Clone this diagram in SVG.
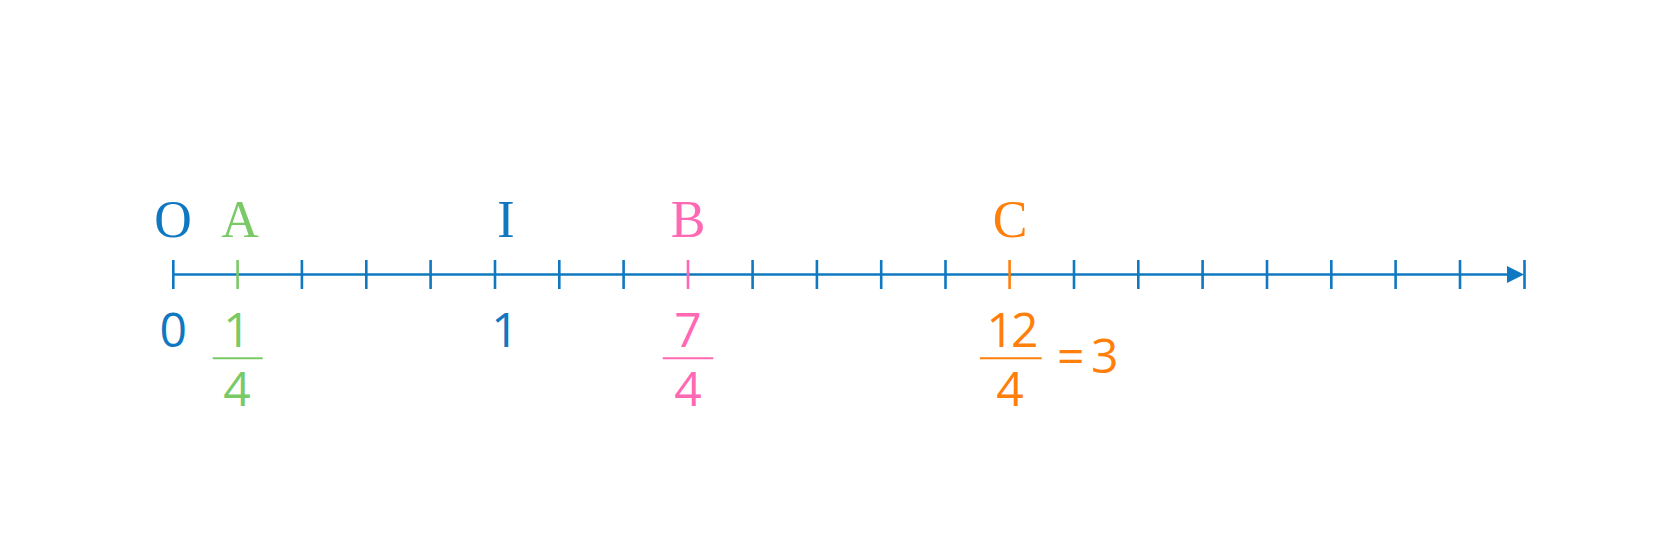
<svg xmlns="http://www.w3.org/2000/svg" width="1680" height="560" viewBox="0 0 1680 560">
<style>
.lbl{font-family:"Liberation Serif","Times New Roman",serif;font-size:52px;font-weight:400;text-anchor:middle}
.num{font-family:"Open Sans","Liberation Sans",sans-serif;font-size:48px;font-weight:400;text-anchor:middle}
.tk{stroke-width:2.6;fill:none}
.blue{fill:#0f78c1}.green{fill:#7ac967}.pink{fill:#ff69b4}.orange{fill:#ff7f0a}
.sb{stroke:#0f78c1}.sg{stroke:#7ac967}.sp{stroke:#ff69b4}.so{stroke:#ff7f0a}
</style>
<rect width="1680" height="560" fill="#ffffff"/>
<g id="axis">
<line x1="173.3" y1="274.5" x2="1510" y2="274.5" class="tk sb"/>
<polygon points="1507,266 1524,274.5 1507,283" fill="#0f78c1"/>
<g class="tk sb">
<line x1="173.3" y1="260" x2="173.3" y2="289"/>
<line x1="301.9" y1="260" x2="301.9" y2="289"/>
<line x1="366.3" y1="260" x2="366.3" y2="289"/>
<line x1="430.6" y1="260" x2="430.6" y2="289"/>
<line x1="495" y1="260" x2="495" y2="289"/>
<line x1="559.3" y1="260" x2="559.3" y2="289"/>
<line x1="623.6" y1="260" x2="623.6" y2="289"/>
<line x1="752.6" y1="260" x2="752.6" y2="289"/>
<line x1="816.9" y1="260" x2="816.9" y2="289"/>
<line x1="881.2" y1="260" x2="881.2" y2="289"/>
<line x1="945.5" y1="260" x2="945.5" y2="289"/>
<line x1="1074" y1="260" x2="1074" y2="289"/>
<line x1="1138.3" y1="260" x2="1138.3" y2="289"/>
<line x1="1202.6" y1="260" x2="1202.6" y2="289"/>
<line x1="1267" y1="260" x2="1267" y2="289"/>
<line x1="1331.3" y1="260" x2="1331.3" y2="289"/>
<line x1="1395.6" y1="260" x2="1395.6" y2="289"/>
<line x1="1460" y1="260" x2="1460" y2="289"/>
<line x1="1524.5" y1="260" x2="1524.5" y2="289"/>
</g>
<line x1="237.6" y1="260" x2="237.6" y2="289" class="tk sg"/>
<line x1="688" y1="260" x2="688" y2="289" class="tk sp"/>
<line x1="1009.6" y1="260" x2="1009.6" y2="289" class="tk so"/>
</g>
<g id="point-O">
<text x="173" y="237" class="lbl blue">O</text>
<text x="173.3" y="346.5" class="num blue">0</text>
</g>
<g id="point-A">
<text x="240" y="237" class="lbl green">A</text>
<text x="237" y="346.5" class="num green">1</text>
<line x1="212.7" y1="358.3" x2="262.7" y2="358.3" stroke="#7ac967" stroke-width="2"/>
<text x="237" y="406" class="num green">4</text>
</g>
<g id="point-I">
<text x="506" y="237" class="lbl blue">I</text>
<text x="505" y="346.5" class="num blue">1</text>
</g>
<g id="point-B">
<text x="688" y="237" class="lbl pink">B</text>
<text x="688" y="346.5" class="num pink">7</text>
<line x1="662.7" y1="358.3" x2="713.3" y2="358.3" stroke="#ff69b4" stroke-width="2"/>
<text x="688" y="406" class="num pink">4</text>
</g>
<g id="point-C">
<text x="1010" y="237" class="lbl orange">C</text>
<text x="1011" y="346.5" class="num orange" letter-spacing="-3">12</text>
<line x1="980" y1="358.3" x2="1041.7" y2="358.3" stroke="#ff7f0a" stroke-width="2"/>
<text x="1010" y="406" class="num orange">4</text>
<text x="1057" y="372.7" class="num orange" style="text-anchor:start" letter-spacing="-3">= 3</text>
</g>
</svg>
